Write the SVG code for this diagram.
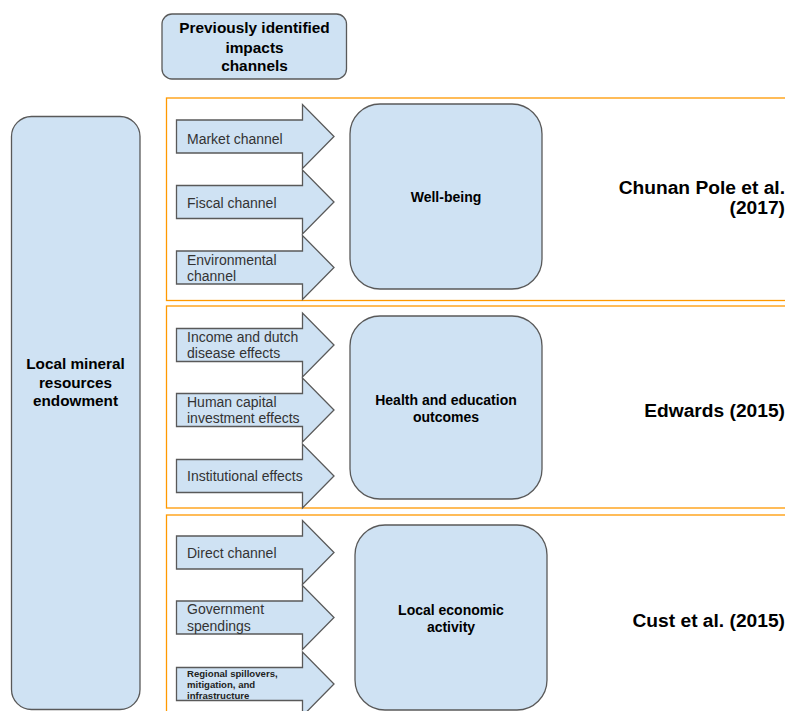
<svg xmlns="http://www.w3.org/2000/svg" xmlns:xlink="http://www.w3.org/1999/xlink" width="785" height="711" viewBox="0 0 785 711">
<style>
.box{fill:#cfe2f3;stroke:#595959;stroke-width:1.3}
.grp{fill:none;stroke:#ff9900;stroke-width:1.3}
.arr{fill:#cfe2f3;stroke:#595959;stroke-width:1.3;stroke-linejoin:miter}
.t{font-family:"Liberation Sans",Arial,sans-serif;fill:#000}
.b{font-weight:bold}
.lab{font-family:"Liberation Sans",Arial,sans-serif;font-size:14px;fill:#333}
.small{font-family:"Liberation Sans",Arial,sans-serif;font-size:9.6px;font-weight:bold;fill:#222}
.ref{font-family:"Liberation Sans",Arial,sans-serif;font-size:19.2px;font-weight:bold;fill:#000;text-anchor:end}
</style>
<defs>
<path id="arrow" d="M0,-16.5 H126 V-32 L157.5,0 L126,32 V16.5 H0 Z"/>
</defs>
<rect width="785" height="711" fill="#fff"/>

<g id="groups">
<rect class="grp" x="166.5" y="98" width="640" height="202.5"/>
<rect class="grp" x="166.5" y="306" width="640" height="202"/>
<rect class="grp" x="166.5" y="515" width="640" height="220"/>
</g>

<g id="header">
<rect class="box" x="162" y="14" width="184.5" height="65" rx="10"/>
<text class="t b" font-size="15.4" text-anchor="middle"><tspan x="254.5" y="33">Previously identified</tspan><tspan x="254.5" y="52.5">impacts</tspan><tspan x="254.5" y="71">channels</tspan></text>
</g>

<g id="endowment">
<rect class="box" x="11.5" y="116.5" width="128.5" height="593" rx="20"/>
<text class="t b" font-size="15.3" text-anchor="middle"><tspan x="75.5" y="369">Local mineral</tspan><tspan x="75.5" y="387.5">resources</tspan><tspan x="75.5" y="406">endowment</tspan></text>
</g>

<g id="connectors">
<g id="market"><use href="#arrow" class="arr" x="176.5" y="136.5"/><text class="lab" x="187" y="144">Market channel</text></g>
<g id="fiscal"><use href="#arrow" class="arr" x="176.5" y="202"/><text class="lab" x="187" y="207.5">Fiscal channel</text></g>
<g id="environmental"><use href="#arrow" class="arr" x="176.5" y="267.5"/><text class="lab"><tspan x="187" y="264.5">Environmental</tspan><tspan x="187" y="281">channel</tspan></text></g>
<g id="income"><use href="#arrow" class="arr" x="176.5" y="345"/><text class="lab"><tspan x="187" y="342">Income and dutch</tspan><tspan x="187" y="358">disease effects</tspan></text></g>
<g id="human"><use href="#arrow" class="arr" x="176.5" y="410"/><text class="lab"><tspan x="187" y="407">Human capital</tspan><tspan x="187" y="423">investment effects</tspan></text></g>
<g id="institutional"><use href="#arrow" class="arr" x="176.5" y="476"/><text class="lab" x="187" y="481">Institutional effects</text></g>
<g id="direct"><use href="#arrow" class="arr" x="176.5" y="552.5"/><text class="lab" x="187" y="558">Direct channel</text></g>
<g id="government"><use href="#arrow" class="arr" x="176.5" y="617.5"/><text class="lab"><tspan x="187" y="614">Government</tspan><tspan x="187" y="631">spendings</tspan></text></g>
<g id="regional"><use href="#arrow" class="arr" x="176.5" y="684"/><text class="small"><tspan x="187" y="677">Regional spillovers,</tspan><tspan x="187" y="688">mitigation, and</tspan><tspan x="187" y="699">infrastructure</tspan></text></g>
</g>

<g id="wellbeing">
<rect class="box" x="350" y="104" width="192" height="185" rx="30"/>
<text class="t b" font-size="14" text-anchor="middle" x="446" y="202">Well-being</text>
</g>

<g id="health">
<rect class="box" x="350" y="316" width="192" height="183" rx="30"/>
<text class="t b" font-size="14" text-anchor="middle"><tspan x="446" y="405">Health and education</tspan><tspan x="446" y="422">outcomes</tspan></text>
</g>

<g id="economic">
<rect class="box" x="355" y="525" width="192" height="185" rx="30"/>
<text class="t b" font-size="14" text-anchor="middle"><tspan x="451" y="615">Local economic</tspan><tspan x="451" y="632">activity</tspan></text>
</g>

<g id="refs">
<text class="ref"><tspan x="785" y="194">Chunan Pole et al.</tspan><tspan x="785" y="213.5">(2017)</tspan></text>
<text class="ref" x="785" y="416.5">Edwards (2015)</text>
<text class="ref" x="785" y="626.5">Cust et al. (2015)</text>
</g>
</svg>
